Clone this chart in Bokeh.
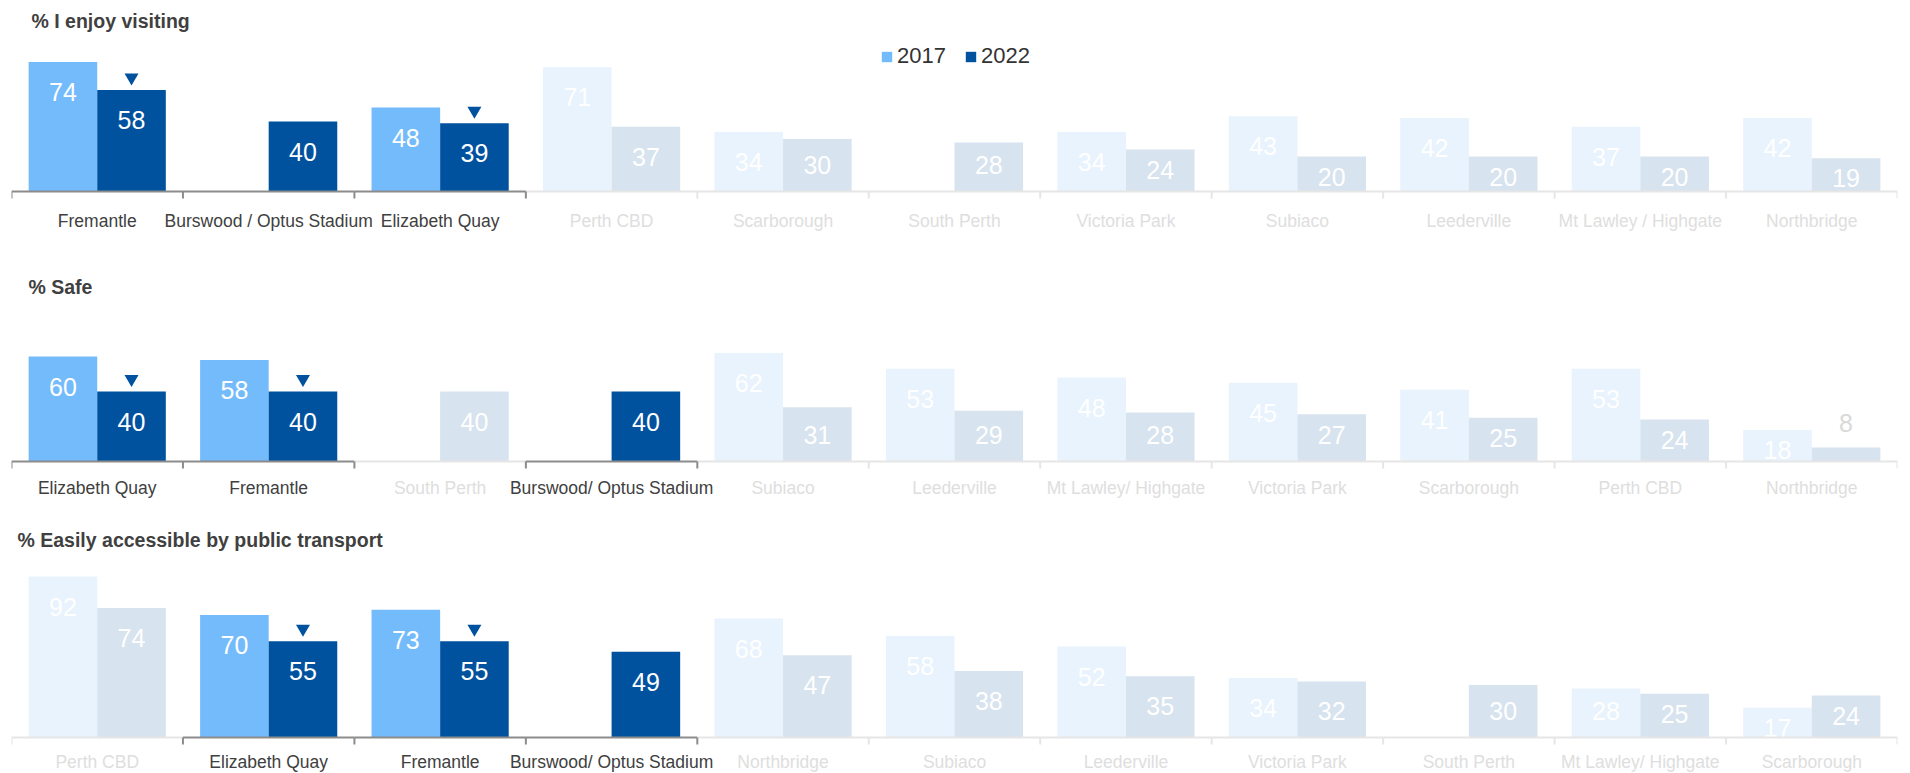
from bokeh.plotting import figure
from bokeh.models import ColumnDataSource, Range1d, FactorRange, Label, Legend, LegendItem
from bokeh.transform import dodge
from bokeh.layouts import column
from bokeh.embed import file_html
from bokeh.resources import INLINE
from bokeh.core.properties import value

# ---------------- data ----------------
enjoy_title = "% I enjoy visiting"
enjoy_cats = ["Fremantle", "Burswood / Optus Stadium", "Elizabeth Quay", "Perth CBD", "Scarborough",
              "South Perth", "Victoria Park", "Subiaco", "Leederville", "Mt Lawley / Highgate", "Northbridge"]
enjoy_2017 = [74, None, 48, 71, 34, None, 34, 43, 42, 37, 42]
enjoy_2022 = [58, 40, 39, 37, 30, 28, 24, 20, 20, 20, 19]
enjoy_focus = ["Fremantle", "Burswood / Optus Stadium", "Elizabeth Quay"]
enjoy_down = ["Fremantle", "Elizabeth Quay"]

safe_title = "% Safe"
safe_cats = ["Elizabeth Quay", "Fremantle", "South Perth", "Burswood/ Optus Stadium", "Subiaco", "Leederville",
             "Mt Lawley/ Highgate", "Victoria Park", "Scarborough", "Perth CBD", "Northbridge"]
safe_2017 = [60, 58, None, None, 62, 53, 48, 45, 41, 53, 18]
safe_2022 = [40, 40, 40, 40, 31, 29, 28, 27, 25, 24, 8]
safe_focus = ["Elizabeth Quay", "Fremantle", "Burswood/ Optus Stadium"]
safe_down = ["Elizabeth Quay", "Fremantle"]

pt_title = "% Easily accessible by public transport"
pt_cats = ["Perth CBD", "Elizabeth Quay", "Fremantle", "Burswood/ Optus Stadium", "Northbridge", "Subiaco",
           "Leederville", "Victoria Park", "South Perth", "Mt Lawley/ Highgate", "Scarborough"]
pt_2017 = [92, 70, 73, None, 68, 58, 52, 34, None, 28, 17]
pt_2022 = [74, 55, 55, 49, 47, 38, 35, 32, 30, 25, 24]
pt_focus = ["Elizabeth Quay", "Fremantle", "Burswood/ Optus Stadium"]
pt_down = ["Elizabeth Quay", "Fremantle"]

years = ["2017", "2022"]

# ---------------- style ----------------
PX = 1.75          # pixels per percentage point
FIG_W = 1905
BL, BR = 11, 8
FONT_NAME = "Liberation Sans"
FONT = value(FONT_NAME)
C17, C22 = "#74BBFC", "#00529F"
F17, F22 = "#E8F3FD", "#D7E3EE"
LAB_DARK, LAB_FADE = "#404040", "#DEDEDE"
AX_DARK, AX_FADE = "#8C8C8C", "#E6E6E6"


def label_pos(v):
    if v * PX < 22:
        return v + 25 / PX
    return max(v - 30 / PX, min(27 / PX, v - 20 / PX))


def make_panel(title, cats, v17, v22, focus, down, height, base_top, title_x, title_top, gap, legend=False):
    p = figure(x_range=FactorRange(*cats), y_range=Range1d(-(height - base_top) / PX, base_top / PX),
               width=FIG_W, height=height, title=None, x_axis_location=None, y_axis_location=None,
               min_border=0, min_border_left=BL, min_border_right=BR,
               toolbar_location=None, output_backend="svg", outline_line_color=None)
    p.grid.visible = False
    rx = p.x_range

    focus_r = {}
    for vals, off, fc, dc, yr in ((v17, -0.2, C17, F17, "2017"), (v22, 0.2, C22, F22, "2022")):
        for is_focus in (True, False):
            d = dict(cat=[], top=[], lab=[], ly=[], lc=[])
            for c, v in zip(cats, vals):
                if v is None or ((c in focus) != is_focus):
                    continue
                d["cat"].append(c)
                d["top"].append(v)
                d["lab"].append(str(v))
                d["ly"].append(label_pos(v))
                d["lc"].append("#FFFFFF" if v * PX >= 22 else "#D9D9D9")
            src = ColumnDataSource(d)
            r = p.vbar(x=dodge("cat", off, range=rx), top="top", bottom=0, width=0.4, source=src,
                       fill_color=fc if is_focus else dc, line_color=None)
            if is_focus:
                focus_r[yr] = r
            p.text(x=dodge("cat", off, range=rx), y="ly", text="lab", source=src,
                   text_color="lc", text_font=FONT, text_font_size="25px",
                   text_align="center", text_baseline="middle")

    # change markers
    dd = dict(cat=[], y=[])
    for c, v in zip(cats, v22):
        if c in down and v is not None:
            dd["cat"].append(c)
            dd["y"].append(v + 12.5 / PX)
    p.scatter(x=dodge("cat", 0.2, range=rx), y="y", source=ColumnDataSource(dd),
              marker="inverted_triangle", size=14, fill_color=C22, line_color=None)

    # axis line, ticks and category labels
    seg_col = [AX_DARK if c in focus else AX_FADE for c in cats]
    tick_col = []
    for i, c in enumerate(cats):
        left_in = i > 0 and cats[i - 1] in focus
        tick_col.append(AX_DARK if (c in focus or left_in) else AX_FADE)
    axsrc = ColumnDataSource(dict(cat=cats, sc=seg_col, tc=tick_col,
                                  lc=[LAB_DARK if c in focus else LAB_FADE for c in cats]))
    p.segment(x0=dodge("cat", -0.5, range=rx), x1=dodge("cat", 0.5, range=rx), y0=0, y1=0,
              line_color="sc", line_width=2, source=axsrc)
    tick_len = 7 / PX
    p.segment(x0=dodge("cat", -0.5, range=rx), x1=dodge("cat", -0.5, range=rx), y0=0, y1=-tick_len,
              line_color="tc", line_width=2, source=axsrc)
    endsrc = ColumnDataSource(dict(cat=[cats[-1]], tc=[AX_DARK if cats[-1] in focus else AX_FADE]))
    p.segment(x0=dodge("cat", 0.5, range=rx), x1=dodge("cat", 0.5, range=rx), y0=0, y1=-tick_len,
              line_color="tc", line_width=2, source=endsrc)
    p.text(x="cat", y=0, text="cat", y_offset=gap, source=axsrc, text_color="lc",
           text_font=FONT, text_font_size="17.5px", text_align="center", text_baseline="middle")

    p.add_layout(Label(x=title_x, y=height - title_top, x_units="screen", y_units="screen", text=title,
                       text_font=FONT_NAME, text_font_style="bold", text_font_size="19.5px",
                       text_color="#404040", text_baseline="middle"))

    if legend:
        lg = Legend(items=[LegendItem(label=years[0], renderers=[focus_r["2017"]]),
                           LegendItem(label=years[1], renderers=[focus_r["2022"]])],
                    orientation="horizontal", location=(869, height - 56 - 14),
                    border_line_color=None, background_fill_alpha=0, padding=0, margin=0,
                    spacing=18, label_standoff=4, glyph_width=13, glyph_height=13, label_height=28,
                    label_text_font=FONT_NAME, label_text_font_size="22px", label_text_color="#333333",
                    label_text_baseline="middle")
        p.add_layout(lg)
    return p


p1 = make_panel(enjoy_title, enjoy_cats, enjoy_2017, enjoy_2022, enjoy_focus, enjoy_down,
                height=258, base_top=191, title_x=20, title_top=20, gap=29, legend=True)
p2 = make_panel(safe_title, safe_cats, safe_2017, safe_2022, safe_focus, safe_down,
                height=254, base_top=203, title_x=17, title_top=28, gap=26)
p3 = make_panel(pt_title, pt_cats, pt_2017, pt_2022, pt_focus, pt_down,
                height=260, base_top=225, title_x=6, title_top=27, gap=24)

layout = column(p1, p2, p3, spacing=0)
open("out.html", "w").write(file_html(layout, INLINE))
